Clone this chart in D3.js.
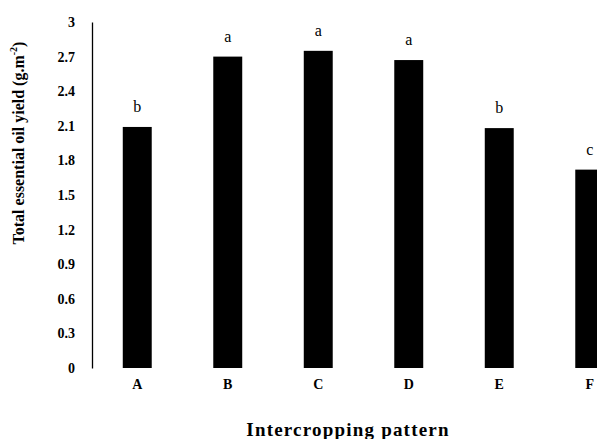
<!DOCTYPE html>
<html>
<head>
<meta charset="utf-8">
<script src="https://cdn.jsdelivr.net/npm/d3@7"></script>
<style>
  html, body { margin: 0; padding: 0; background: #fff; }
  svg { display: block; }
</style>
</head>
<body>
<div id="chart"></div>
<script>
// Intercropping patterns and their total essential oil yield
const categories = ["A", "B", "C", "D", "E", "F"];
const yieldValues = [2.09, 2.70, 2.75, 2.67, 2.08, 1.72];
const groupLetters = ["b", "a", "a", "a", "b", "c"];
const yTicks = [0, 0.3, 0.6, 0.9, 1.2, 1.5, 1.8, 2.1, 2.4, 2.7, 3];

const width = 597, height = 439;
const axisX = 92, y0 = 368, yTop = 22;
const step = 90.5;

const svg = d3.select("#chart").append("svg")
  .attr("width", width)
  .attr("height", height)
  .style("font-family", "'Liberation Serif', 'Times New Roman', serif");

const x = d3.scaleBand()
  .domain(categories)
  .range([axisX, axisX + step * categories.length])
  .paddingInner(0.68)
  .paddingOuter(0.34);

const y = d3.scaleLinear().domain([0, 3]).range([y0, yTop]);

// Bars
svg.append("g").selectAll("rect")
  .data(categories)
  .join("rect")
  .attr("x", d => x(d))
  .attr("width", x.bandwidth())
  .attr("y", (d, i) => y(yieldValues[i]))
  .attr("height", (d, i) => y(0) - y(yieldValues[i]))
  .attr("fill", "#000");

// Significance letters above bars
svg.append("g").selectAll("text")
  .data(categories)
  .join("text")
  .attr("x", d => x(d) + x.bandwidth() / 2)
  .attr("y", (d, i) => y(yieldValues[i]) - 15)
  .attr("text-anchor", "middle")
  .style("font-size", "16px")
  .text((d, i) => groupLetters[i]);

// Y axis
const yAxis = svg.append("g")
  .attr("transform", `translate(${axisX},0)`)
  .call(d3.axisLeft(y).tickValues(yTicks).tickSize(0).tickPadding(17)
    .tickFormat(d => String(d)));
yAxis.select(".domain").attr("stroke", "#000").attr("stroke-width", 1.3);
yAxis.selectAll("text")
  .style("font-family", "'Liberation Serif', 'Times New Roman', serif")
  .style("font-size", "14px")
  .style("font-weight", "bold")
  .attr("fill", "#000");

// X axis labels (no baseline drawn)
const xAxis = svg.append("g")
  .attr("transform", `translate(0,${y0})`)
  .call(d3.axisBottom(x).tickSize(0).tickPadding(11));
xAxis.select(".domain").remove();
xAxis.selectAll("text")
  .style("font-family", "'Liberation Serif', 'Times New Roman', serif")
  .style("font-size", "14px")
  .style("font-weight", "bold")
  .attr("fill", "#000");

// Axis titles
svg.append("text")
  .attr("x", 348)
  .attr("y", 436)
  .attr("text-anchor", "middle")
  .style("font-size", "19px")
  .style("font-weight", "bold")
  .style("letter-spacing", "1.2px")
  .text("Intercropping pattern");

const yTitle = svg.append("text")
  .attr("transform", `translate(24,143) rotate(-90)`)
  .attr("text-anchor", "middle")
  .style("font-size", "16px")
  .style("font-weight", "bold");
yTitle.append("tspan").text("Total essential oil yield (g.m");
yTitle.append("tspan").attr("dy", -7).style("font-size", "10px").text("-2");
yTitle.append("tspan").attr("dy", 7).text(")");
</script>
</body>
</html>
